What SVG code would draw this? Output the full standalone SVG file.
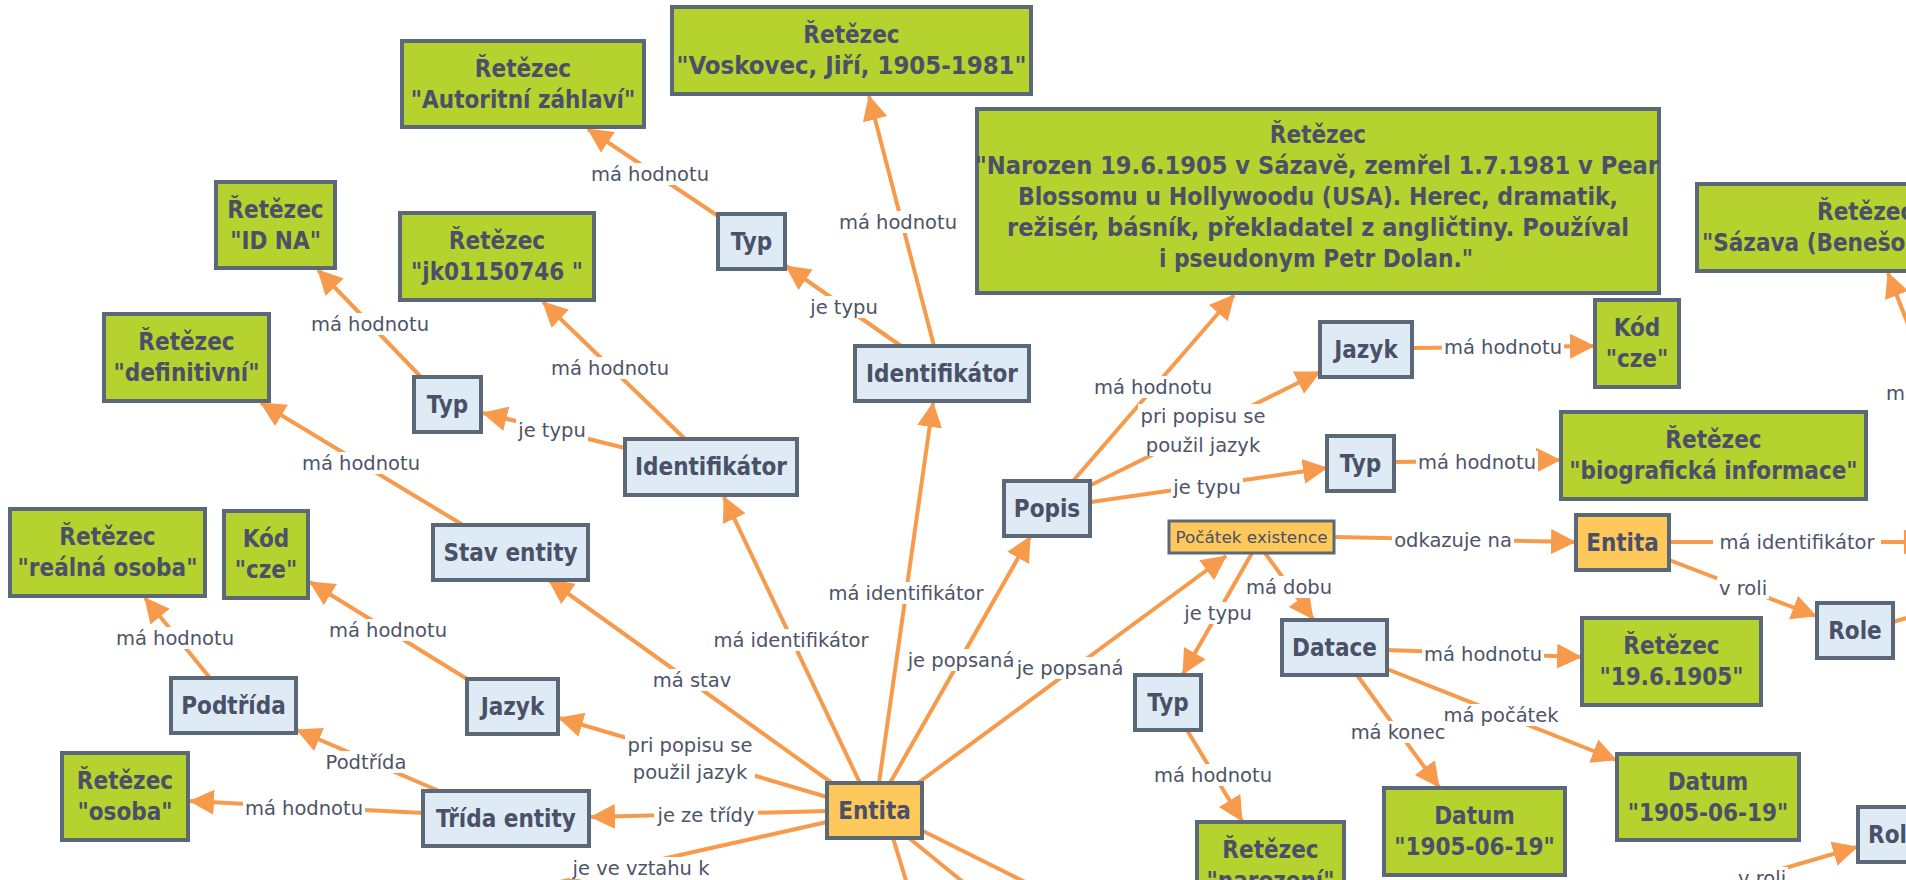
<svg xmlns="http://www.w3.org/2000/svg" width="1906" height="880" viewBox="0 0 1906 880">
<style>
.nb{stroke:#5a6878;stroke-width:4}
.g{fill:#b6d22e}
.b{fill:#deebf4}
.o{fill:#fec95a}
.t{font-family:"DejaVu Sans Condensed","DejaVu Sans",sans-serif;font-weight:bold;font-size:24px;fill:#4a5068;text-anchor:middle}
.ts{text-anchor:start}
.e{stroke:#f79a4b;stroke-width:4;fill:none;marker-end:url(#ah)}
.en{stroke:#f79a4b;stroke-width:4;fill:none}
.lb{fill:#ffffff}
.l{font-family:"DejaVu Sans",sans-serif;font-size:19.5px;fill:#4d5468;text-anchor:middle}
</style>
<defs>
<marker id="ah" markerUnits="userSpaceOnUse" markerWidth="26" markerHeight="26" refX="24" refY="12.5" orient="auto">
<path d="M0,0 L25,12.5 L0,25 z" fill="#f79a4b"/>
</marker>
</defs>
<rect x="0" y="0" width="1906" height="880" fill="#ffffff"/>

<g id="connectors">
<path class="e" d="M718,216 L588,129"/>
<path class="e" d="M901,346 L786,266"/>
<path class="e" d="M934,346 L869,96"/>
<path class="e" d="M879,783 L933,403"/>
<path class="e" d="M860,783 L724,497"/>
<path class="e" d="M625,448 L483,413"/>
<path class="e" d="M685,439 L543,302"/>
<path class="e" d="M421,377 L318,270"/>
<path class="e" d="M463,525 L261,403"/>
<path class="e" d="M832,783 L549,580"/>
<path class="e" d="M827,797 L559,718"/>
<path class="e" d="M827,811 L591,817"/>
<path class="e" d="M439,791 L297,730"/>
<path class="e" d="M423,813 L190,801"/>
<path class="e" d="M210,678 L145,598"/>
<path class="e" d="M467,679 L310,582"/>
<path class="e" d="M890,783 L1030,537"/>
<path class="e" d="M918,783 L1226,556"/>
<path class="e" d="M1073,481 L1234,295"/>
<path class="e" d="M1091,485 L1320,372"/>
<path class="e" d="M1091,502 L1327,468"/>
<path class="e" d="M1412,348 L1594,346"/>
<path class="e" d="M1394,462 L1560,460"/>
<path class="e" d="M1335,537 L1575,542"/>
<path class="e" d="M1252,553 L1183,674"/>
<path class="e" d="M1265,553 L1313,619"/>
<path class="e" d="M1187,730 L1242,821"/>
<path class="e" d="M1387,650 L1581,657"/>
<path class="e" d="M1387,669 L1616,760"/>
<path class="e" d="M1357,675 L1439,787"/>
<path class="e" d="M1669,560 L1816,616"/>
<path class="e" d="M1669,542 L1928,542"/>
<path class="en" d="M1893,622 L1980,596"/>
<path class="e" d="M2000,560 L1888,273"/>
<path class="e" d="M1700,893 L1857,847"/>
<path class="en" d="M827,822 L480,900"/>
<path class="en" d="M893,838 L912,900"/>
<path class="en" d="M909,838 L985,900"/>
<path class="en" d="M921,830 L1061,900"/>

<g id="labels">
<rect class="lb" x="589" y="163" width="122" height="22"/><text class="l" x="650" y="181">má hodnotu</text>
<rect class="lb" x="808" y="296" width="72" height="22"/><text class="l" x="844" y="314">je typu</text>
<rect class="lb" x="837" y="211" width="122" height="22"/><text class="l" x="898" y="229">má hodnotu</text>
<rect class="lb" x="822" y="582" width="168" height="22"/><text class="l" x="906" y="600">má identifikátor</text>
<rect class="lb" x="707" y="629" width="168" height="22"/><text class="l" x="791" y="647">má identifikátor</text>
<rect class="lb" x="516" y="419" width="72" height="22"/><text class="l" x="552" y="437">je typu</text>
<rect class="lb" x="549" y="357" width="122" height="22"/><text class="l" x="610" y="375">má hodnotu</text>
<rect class="lb" x="309" y="313" width="122" height="22"/><text class="l" x="370" y="331">má hodnotu</text>
<rect class="lb" x="300" y="452" width="122" height="22"/><text class="l" x="361" y="470">má hodnotu</text>
<rect class="lb" x="652" y="669" width="80" height="22"/><text class="l" x="692" y="687">má stav</text>
<rect class="lb" x="625" y="733" width="130" height="50"/><text class="l" x="690" y="752">pri popisu se</text><text class="l" x="690" y="779">použil jazyk</text>
<rect class="lb" x="654" y="804" width="104" height="22"/><text class="l" x="706" y="822">je ze třídy</text>
<rect class="lb" x="322" y="751" width="88" height="22"/><text class="l" x="366" y="769">Podtřída</text>
<rect class="lb" x="243" y="797" width="122" height="22"/><text class="l" x="304" y="815">má hodnotu</text>
<rect class="lb" x="114" y="627" width="122" height="22"/><text class="l" x="175" y="645">má hodnotu</text>
<rect class="lb" x="327" y="619" width="122" height="22"/><text class="l" x="388" y="637">má hodnotu</text>
<rect class="lb" x="906" y="649" width="110" height="22"/><text class="l" x="961" y="667">je popsaná</text>
<rect class="lb" x="1015" y="657" width="110" height="22"/><text class="l" x="1070" y="675">je popsaná</text>
<rect class="lb" x="1092" y="376" width="122" height="22"/><text class="l" x="1153" y="394">má hodnotu</text>
<rect class="lb" x="1138" y="404" width="130" height="52"/><text class="l" x="1203" y="423">pri popisu se</text><text class="l" x="1203" y="452">použil jazyk</text>
<rect class="lb" x="1171" y="476" width="72" height="22"/><text class="l" x="1207" y="494">je typu</text>
<rect class="lb" x="1442" y="336" width="122" height="22"/><text class="l" x="1503" y="354">má hodnotu</text>
<rect class="lb" x="1416" y="451" width="122" height="22"/><text class="l" x="1477" y="469">má hodnotu</text>
<rect class="lb" x="1392" y="529" width="122" height="22"/><text class="l" x="1453" y="547">odkazuje na</text>
<rect class="lb" x="1182" y="602" width="72" height="22"/><text class="l" x="1218" y="620">je typu</text>
<rect class="lb" x="1245" y="576" width="88" height="22"/><text class="l" x="1289" y="594">má dobu</text>
<rect class="lb" x="1152" y="764" width="122" height="22"/><text class="l" x="1213" y="782">má hodnotu</text>
<rect class="lb" x="1422" y="643" width="122" height="22"/><text class="l" x="1483" y="661">má hodnotu</text>
<rect class="lb" x="1442" y="704" width="118" height="22"/><text class="l" x="1501" y="722">má počátek</text>
<rect class="lb" x="1349" y="721" width="98" height="22"/><text class="l" x="1398" y="739">má konec</text>
<rect class="lb" x="1717" y="577" width="52" height="22"/><text class="l" x="1743" y="595">v roli</text>
<rect class="lb" x="1713" y="531" width="168" height="22"/><text class="l" x="1797" y="549">má identifikátor</text>
<rect class="lb" x="1884" y="382" width="122" height="22"/><text class="l" x="1945" y="400">má hodnotu</text>
<rect class="lb" x="1736" y="867" width="52" height="22"/><text class="l" x="1762" y="885">v roli</text>
<rect class="lb" x="570" y="857" width="142" height="22"/><text class="l" x="641" y="875">je ve vztahu k</text>
</g>
</g>

<g id="n_autoritni"><rect class="nb g" x="402" y="41" width="242" height="86"/><text class="t" x="523" y="77">Řetězec</text><text class="t" x="523" y="108">"Autoritní záhlaví"</text></g>
<g id="n_voskovec"><rect class="nb g" x="672" y="7" width="359" height="87"/><text class="t" x="851.5" y="43">Řetězec</text><text class="t" x="851.5" y="74" textLength="350" lengthAdjust="spacingAndGlyphs">"Voskovec, Jiří, 1905-1981"</text></g>
<g id="n_popis_hodnota"><rect class="nb g" x="977" y="109" width="682" height="184"/><text class="t" x="1318" y="143">Řetězec</text><text class="t ts" x="975" y="174" textLength="684" lengthAdjust="spacingAndGlyphs">"Narozen 19.6.1905 v Sázavě, zemřel 1.7.1981 v Pear</text><text class="t" x="1318" y="205" textLength="600" lengthAdjust="spacingAndGlyphs">Blossomu u Hollywoodu (USA). Herec, dramatik,</text><text class="t" x="1318" y="236" textLength="622" lengthAdjust="spacingAndGlyphs">režisér, básník, překladatel z angličtiny. Používal</text><text class="t" x="1316" y="267" textLength="314" lengthAdjust="spacingAndGlyphs">i pseudonym Petr Dolan."</text></g>
<g id="n_idna"><rect class="nb g" x="216" y="182" width="119" height="86"/><text class="t" x="275.5" y="218">Řetězec</text><text class="t" x="275.5" y="249">"ID NA"</text></g>
<g id="n_jk"><rect class="nb g" x="400" y="213" width="194" height="87"/><text class="t" x="497" y="249">Řetězec</text><text class="t" x="497" y="280">"jk01150746 "</text></g>
<g id="n_definitivni"><rect class="nb g" x="104" y="314" width="165" height="87"/><text class="t" x="186.5" y="350">Řetězec</text><text class="t" x="186.5" y="381">"definitivní"</text></g>
<g id="n_typ_left"><rect class="nb b" x="414" y="377" width="67" height="55"/><text class="t" x="447.5" y="413">Typ</text></g>
<g id="n_typ_up"><rect class="nb b" x="718" y="214" width="67" height="55"/><text class="t" x="751.5" y="250">Typ</text></g>
<g id="n_ident_up"><rect class="nb b" x="855" y="346" width="174" height="55"/><text class="t" x="942" y="382">Identifikátor</text></g>
<g id="n_ident_left"><rect class="nb b" x="625" y="439" width="172" height="56"/><text class="t" x="711" y="475">Identifikátor</text></g>
<g id="n_stav"><rect class="nb b" x="433" y="525" width="155" height="55"/><text class="t" x="510.5" y="561">Stav entity</text></g>
<g id="n_realna"><rect class="nb g" x="10" y="509" width="195" height="87"/><text class="t" x="107.5" y="545">Řetězec</text><text class="t" x="107.5" y="576">"reálná osoba"</text></g>
<g id="n_kod_left"><rect class="nb g" x="224" y="511" width="84" height="87"/><text class="t" x="266" y="547">Kód</text><text class="t" x="266" y="578">"cze"</text></g>
<g id="n_podtrida"><rect class="nb b" x="171" y="678" width="125" height="55"/><text class="t" x="233.5" y="714">Podtřída</text></g>
<g id="n_jazyk_left"><rect class="nb b" x="467" y="679" width="91" height="55"/><text class="t" x="512.5" y="715">Jazyk</text></g>
<g id="n_osoba"><rect class="nb g" x="62" y="753" width="126" height="87"/><text class="t" x="125" y="789">Řetězec</text><text class="t" x="125" y="820">"osoba"</text></g>
<g id="n_trida"><rect class="nb b" x="423" y="791" width="166" height="55"/><text class="t" x="506" y="827">Třída entity</text></g>
<g id="n_entita"><rect class="nb o" x="827" y="783" width="95" height="55"/><text class="t" x="874.5" y="819">Entita</text></g>
<g id="n_popis"><rect class="nb b" x="1004" y="481" width="86" height="55"/><text class="t" x="1047" y="517">Popis</text></g>
<g id="n_jazyk_right"><rect class="nb b" x="1320" y="322" width="92" height="55"/><text class="t" x="1366" y="358">Jazyk</text></g>
<g id="n_kod_right"><rect class="nb g" x="1595" y="300" width="84" height="87"/><text class="t" x="1637" y="336">Kód</text><text class="t" x="1637" y="367">"cze"</text></g>
<g id="n_typ_right"><rect class="nb b" x="1327" y="436" width="67" height="55"/><text class="t" x="1360.5" y="472">Typ</text></g>
<g id="n_biograficka"><rect class="nb g" x="1561" y="412" width="305" height="87"/><text class="t" x="1713.5" y="448">Řetězec</text><text class="t" x="1713.5" y="479">"biografická informace"</text></g>
<g id="n_pocatek"><rect class="nb o" x="1169" y="521" width="165" height="32" style="stroke-width:3"/><text class="t" x="1251.5" y="543" style="font-size:15px;font-weight:normal" textLength="152" lengthAdjust="spacingAndGlyphs">Počátek existence</text></g>
<g id="n_entita_right"><rect class="nb o" x="1576" y="515" width="93" height="55"/><text class="t" x="1622.5" y="551">Entita</text></g>
<g id="n_role"><rect class="nb b" x="1817" y="603" width="76" height="55"/><text class="t" x="1855" y="639">Role</text></g>
<g id="n_datace"><rect class="nb b" x="1282" y="620" width="105" height="55"/><text class="t" x="1334.5" y="656">Datace</text></g>
<g id="n_typ_bottom"><rect class="nb b" x="1135" y="675" width="66" height="55"/><text class="t" x="1168" y="711">Typ</text></g>
<g id="n_retezec_datum"><rect class="nb g" x="1582" y="618" width="179" height="87"/><text class="t" x="1671.5" y="654">Řetězec</text><text class="t" x="1671.5" y="685">"19.6.1905"</text></g>
<g id="n_datum_pocatek"><rect class="nb g" x="1617" y="754" width="182" height="86"/><text class="t" x="1708" y="790">Datum</text><text class="t" x="1708" y="821">"1905-06-19"</text></g>
<g id="n_datum_konec"><rect class="nb g" x="1384" y="788" width="181" height="87"/><text class="t" x="1474.5" y="824">Datum</text><text class="t" x="1474.5" y="855">"1905-06-19"</text></g>
<g id="n_narozeni"><rect class="nb g" x="1197" y="822" width="147" height="87"/><text class="t" x="1270.5" y="858">Řetězec</text><text class="t" x="1270.5" y="889">"narození"</text></g>
<g id="n_sazava"><rect class="nb g" x="1697" y="184" width="260" height="87"/><text class="t ts" x="1817" y="220">Řetězec</text><text class="t ts" x="1702" y="251">"Sázava (Benešo</text></g>
<g id="n_role_bottom"><rect class="nb b" x="1858" y="807" width="80" height="55"/><text class="t ts" x="1868" y="843">Role</text></g>
</svg>
